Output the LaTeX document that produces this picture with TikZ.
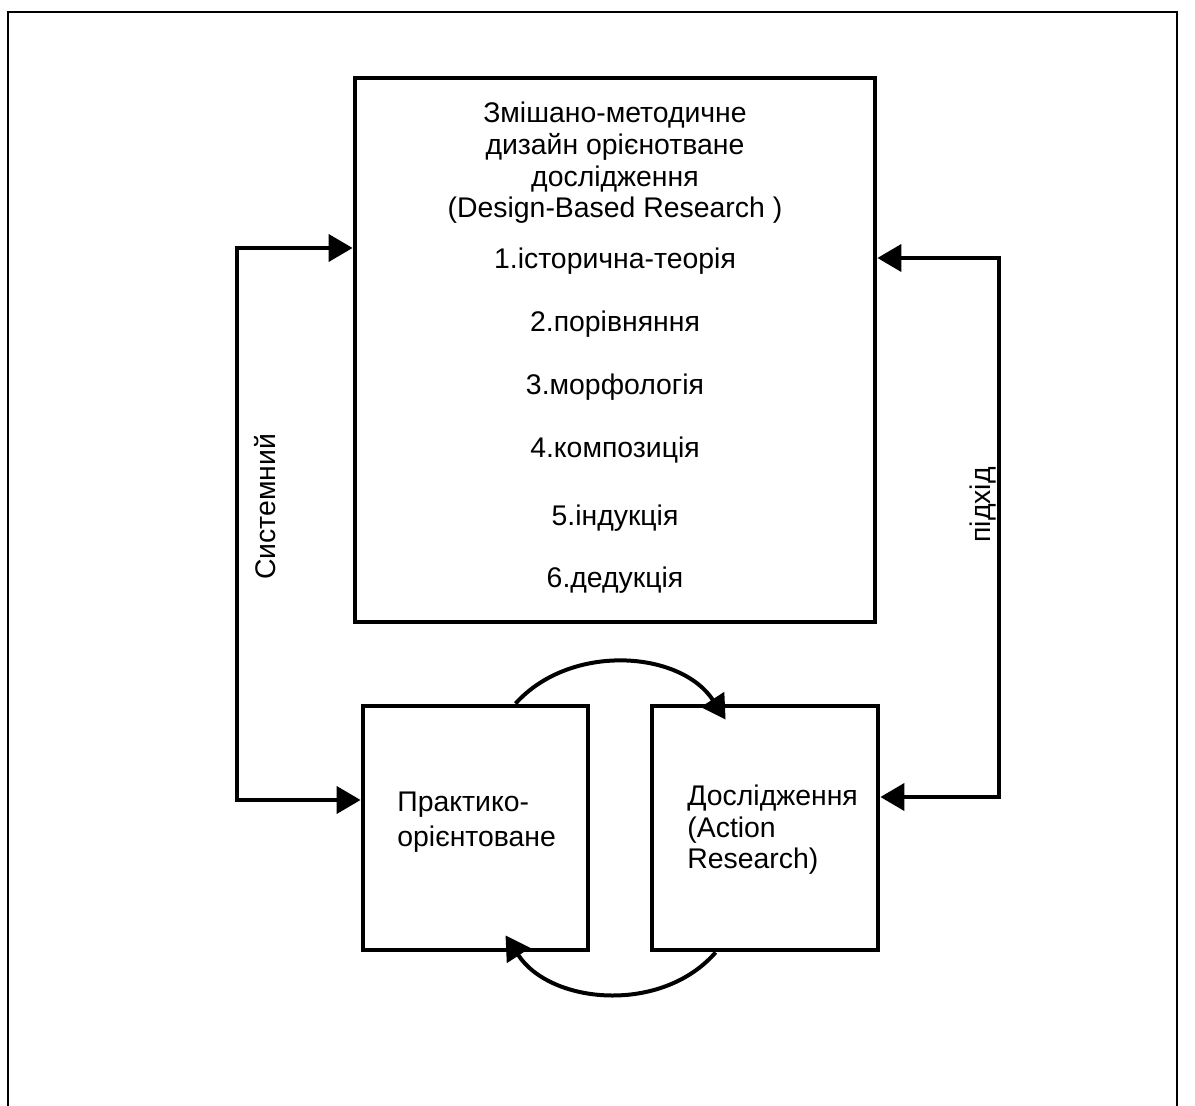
\documentclass[tikz,border=0pt]{standalone}
\usepackage{fontspec}
\setmainfont{Liberation Sans}
\usetikzlibrary{calc}
\usetikzlibrary{positioning}
\usetikzlibrary{arrows.meta}

\tikzset{
  blok/.style={draw, line width=2.4pt, rectangle, inner sep=0pt},
  link/.style={line width=2pt},
  lbl/.style={font=\fontsize{14.2}{15.8}\selectfont, inner sep=0pt},
}

\begin{document}
\begin{tikzpicture}[%
  >={Triangle[length=12pt,width=13.5pt]},
  x=0.5pt, y=-0.5pt
]

  \useasboundingbox (0,0) rectangle (1195,1106);

  % frame
  \draw[line width=0.7pt] (8,1106) -- (8,12) -- (1177,12) -- (1177,1106);

  \node[blok, minimum width=260pt, minimum height=272pt] (dbr) at (615,350) {};
  \node[blok, minimum width=112.5pt, minimum height=122pt] (prakt) at (475.5,828) {};
  \node[blok, minimum width=113pt, minimum height=122pt] (dosl) at (765,828) {};

  \node[lbl, align=center] (title) at (615,163)
    {Змішано-методичне\\дизайн орієнотване\\дослідження\\(Design-Based Research )};
  \node[lbl] (m1) at (615,261) {1.історична-теорія};
  \node[lbl] (m2) at (615,324) {2.порівняння};
  \node[lbl] (m3) at (615,387) {3.морфологія};
  \node[lbl] (m4) at (615,450) {4.композиція};
  \node[lbl] (m5) at (615,518) {5.індукція};
  \node[lbl] (m6) at (615,580) {6.дедукція};

  \node[lbl, anchor=west, align=left] (pt) at (397,822) {Практико-\\[1.5pt]орієнтоване};
  \node[lbl, anchor=west, align=left] (dt) at (687,830) {Дослідження\\(Action\\Research)};

  % side links
  \coordinate (sysT) at (237,248);
  \coordinate (sysB) at (237,800);
  \coordinate (pidT) at (999,258);
  \coordinate (pidB) at (999,797);

  \draw[link, <->] (dbr.west |- sysT) -- (sysT) -- (sysB) -- (prakt.west |- sysB);
  \draw[link, <->] (dbr.east |- pidT) -- (pidT) -- (pidB) -- (dosl.east |- pidB);

  \node[lbl, rotate=90] (sys) at (265,507) {Системний};
  \node[lbl, rotate=90] (pid) at (983,505) {підхід};

  % loop between the two boxes
  \draw[link, ->] ($(prakt.north)+(40,0)$) to[out=48, in=123] ($(dosl.north west)+(76,16)$);
  \draw[link, ->] ($(dosl.south west)+(66,0)$) to[out=229, in=-57] ($(prakt.south)+(30,-17)$);

\end{tikzpicture}
\end{document}
